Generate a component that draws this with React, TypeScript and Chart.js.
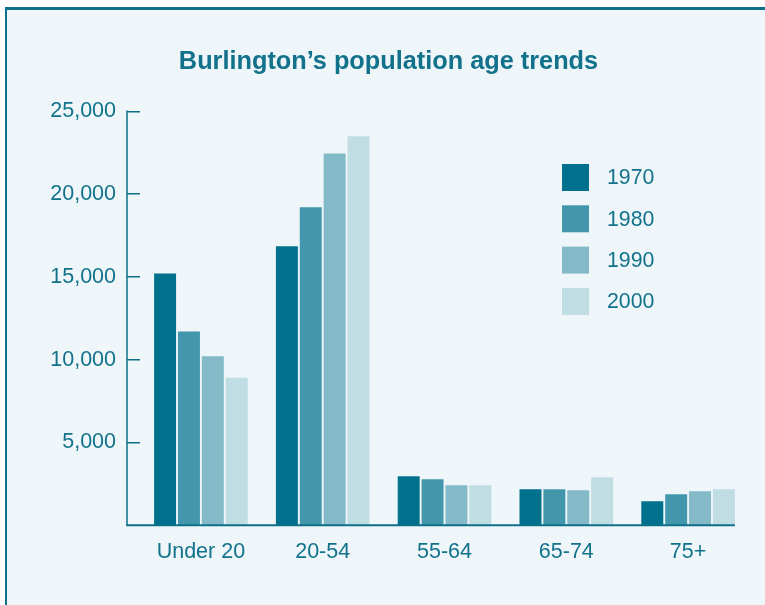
import React, { useEffect, useRef } from "react";
import { Chart, registerables } from "chart.js";

Chart.register(...registerables);

const categories = ["Under 20", "20-54", "55-64", "65-74", "75+"];
const years = ["1970", "1980", "1990", "2000"];
const values1970 = [15200, 16850, 2960, 2170, 1450];
const values1980 = [11700, 19200, 2780, 2170, 1870];
const values1990 = [10200, 22450, 2420, 2110, 2050];
const values2000 = [8900, 23500, 2420, 2900, 2170];
const yTickValues = [5000, 10000, 15000, 20000, 25000];
const titleText = "Burlington\u2019s population age trends";

const seriesValues = [values1970, values1980, values1990, values2000];
const barColors = ["#00718d", "#4397ad", "#84b9c8", "#c0dde3"];
const TEAL = "#0e6f89";
const TEXT = "#12728c";
const FONT = "'Liberation Sans', Arial, Helvetica, sans-serif";

const axisAndLegendPlugin = {
  id: "axisAndLegend",
  afterDatasetsDraw(chart: any) {
    const { ctx, chartArea, scales } = chart;
    const y = scales.y;
    const tl = y.options.grid.tickLength;
    const x0 = chartArea.left - tl;
    let right = chartArea.left;
    chart.getSortedVisibleDatasetMetas().forEach((meta: any) => {
      meta.data.forEach((el: any) => {
        const r = el.x + el.width / 2;
        if (r > right) right = r;
      });
    });
    ctx.save();
    ctx.strokeStyle = TEAL;
    ctx.lineWidth = 1.5;
    ctx.beginPath();
    ctx.moveTo(x0, y.getPixelForValue(y.max) - 0.75);
    ctx.lineTo(x0, chartArea.bottom);
    ctx.stroke();
    ctx.lineWidth = 2;
    ctx.beginPath();
    ctx.moveTo(x0 - 0.75, chartArea.bottom);
    ctx.lineTo(right, chartArea.bottom);
    ctx.stroke();

    // legend
    const lx = 562;
    const ly = 164;
    const step = 41.3;
    const size = 27;
    ctx.font = `21.3px ${FONT}`;
    ctx.textBaseline = "middle";
    ctx.textAlign = "left";
    chart.data.datasets.forEach((ds: any, i: number) => {
      const top = ly + i * step;
      ctx.fillStyle = ds.backgroundColor;
      ctx.fillRect(lx, top, size, size);
      ctx.fillStyle = TEXT;
      ctx.fillText(ds.label, lx + 45, top + size / 2 + 1);
    });
    ctx.restore();
  },
};

export default function App() {
  const ref = useRef<HTMLCanvasElement | null>(null);

  useEffect(() => {
    if (!ref.current) return;
    const chart = new Chart(ref.current, {
      type: "bar",
      data: {
        labels: categories,
        datasets: years.map((yr, i) => ({
          label: yr,
          data: seriesValues[i],
          backgroundColor: barColors[i],
          borderWidth: 0,
          categoryPercentage: 0.784,
          barPercentage: 0.92,
        })),
      },
      options: {
        responsive: false,
        animation: false,
        layout: { padding: { top: 10, bottom: 26, left: 28, right: 16 } },
        plugins: {
          legend: { display: false },
          tooltip: { enabled: false },
          title: {
            display: true,
            text: titleText,
            color: TEXT,
            font: { family: FONT, size: 25.3, weight: "bold" },
            padding: { top: 37, bottom: 34 },
          },
        },
        scales: {
          x: {
            grid: { display: false, drawTicks: false },
            border: { display: false },
            ticks: {
              color: TEXT,
              font: { family: FONT, size: 21.5 },
              padding: 14,
            },
          },
          y: {
            min: 0,
            max: 25000,
            border: { display: false },
            grid: {
              display: true,
              drawOnChartArea: false,
              drawTicks: true,
              tickLength: 13,
              color: TEAL,
              lineWidth: 1.5,
            },
            ticks: {
              color: TEXT,
              font: { family: FONT, size: 21.5 },
              padding: 11,
              callback: (v: any) => Number(v).toLocaleString("en-US"),
            },
            afterBuildTicks: (scale: any) => {
              scale.ticks = yTickValues.map((v) => ({ value: v }));
            },
            afterFit: (scale: any) => {
              scale.width = 112;
            },
          },
        },
      },
      plugins: [axisAndLegendPlugin],
    } as any);
    return () => chart.destroy();
  }, []);

  return (
    <div
      style={{
        position: "fixed",
        left: 0,
        top: 0,
        width: 765,
        height: 605,
        background: "#ffffff",
        overflow: "hidden",
      }}
    >
      <div
        style={{
          position: "absolute",
          left: 5,
          top: 7,
          right: 0,
          bottom: 0,
          background: "#eef6f9",
          borderTop: `3px solid ${TEAL}`,
          borderLeft: `2.5px solid ${TEAL}`,
        }}
      />
      <canvas
        ref={ref}
        width={765}
        height={605}
        style={{ position: "absolute", left: 0, top: 0, width: 765, height: 605 }}
      />
    </div>
  );
}
